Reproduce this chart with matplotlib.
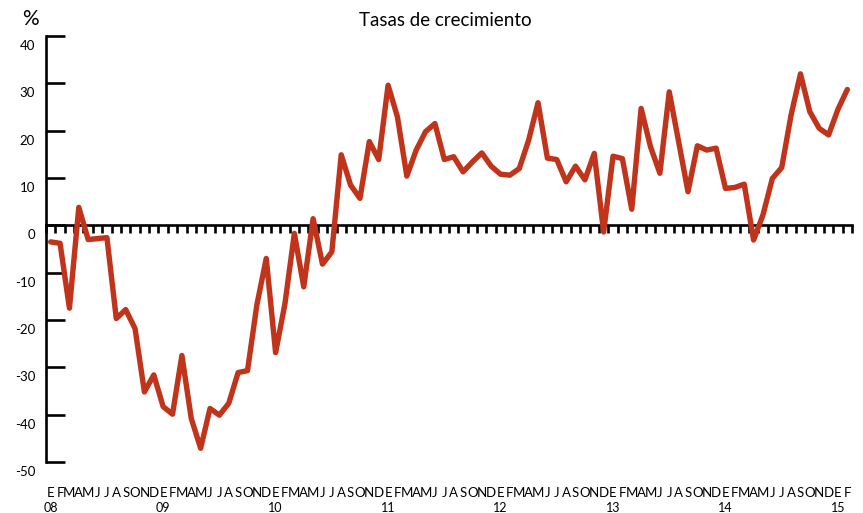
import matplotlib
matplotlib.use('Agg')
import matplotlib.pyplot as plt

plt.rcParams['font.family'] = ['Lato', 'DejaVu Sans']

# monthly growth rates, Jan 2008 - Feb 2015 (%)
values = [
    -3.5, -3.8, -17.5, 3.8, -3.0, -2.8, -2.6, -19.7, -17.8, -21.8, -35.2, -31.6,   # 2008
    -38.3, -39.9, -27.5, -40.8, -47.1, -38.7, -40.1, -37.6, -31.1, -30.7, -16.8, -7.0,  # 2009
    -26.9, -16.5, -1.7, -13.0, 1.4, -8.2, -5.6, 14.9, 8.5, 5.7, 17.7, 13.9,  # 2010
    29.6, 22.9, 10.4, 15.9, 19.8, 21.5, 13.9, 14.5, 11.3, 13.4, 15.3, 12.5,  # 2011
    10.8, 10.6, 12.0, 18.0, 25.9, 14.2, 13.9, 9.2, 12.5, 9.6, 15.2, -1.4,  # 2012
    14.6, 14.1, 3.4, 24.7, 16.6, 11.0, 28.2, 17.7, 7.1, 16.8, 15.9, 16.3,  # 2013
    7.8, 8.0, 8.7, -3.1, 2.2, 9.9, 12.2, 23.3, 32.0, 24.0, 20.5, 19.1,  # 2014
    24.5, 28.7,  # 2015
]
month_letters = ['E', 'F', 'M', 'A', 'M', 'J', 'J', 'A', 'S', 'O', 'N', 'D']
years = ['08', '09', '10', '11', '12', '13', '14', '15']
y_ticks = [-50, -40, -30, -20, -10, 0, 10, 20, 30, 40]

W, H = 863, 513
fig = plt.figure(figsize=(W / 100, H / 100), dpi=100)
ax = fig.add_axes([46 / W, 1 - 462 / H, (852 - 46) / W, (462 - 36) / H])

n = len(values)
x = list(range(n))
ax.plot(x, values, color='#c0341c', lw=3.9, solid_joinstyle='round',
        solid_capstyle='round', zorder=3)

ax.set_xlim(-0.5, n - 0.5)
ax.set_ylim(-50, 40)

for s in ['top', 'right']:
    ax.spines[s].set_visible(False)
ax.spines['left'].set_linewidth(1.9)
ax.spines['bottom'].set_position(('data', 0))
ax.spines['bottom'].set_linewidth(1.9)

# y ticks pointing into the plot, labels drawn a bit below
ax.set_yticks(y_ticks)
ax.tick_params(axis='y', direction='in', length=14, width=1.9, labelleft=False)
for v in y_ticks:
    ax.annotate(str(v), xy=(0, v), xycoords=('axes fraction', 'data'),
                xytext=(-11, -10), textcoords='offset pixels',
                ha='right', va='center', fontsize=9.5)

# small month ticks on the zero line
ax.set_xticks([i + 0.5 for i in range(-1, n)])
ax.tick_params(axis='x', direction='out', length=6, width=1.9, labelbottom=False)

for i in range(n):
    ax.annotate(month_letters[i % 12], xy=(i, 0), xycoords=('data', 'axes fraction'),
                xytext=(0, -31), textcoords='offset pixels',
                ha='center', va='center', fontsize=9.5)
for k, yr in enumerate(years):
    ax.annotate(yr, xy=(k * 12, 0), xycoords=('data', 'axes fraction'),
                xytext=(0, -46), textcoords='offset pixels',
                ha='center', va='center', fontsize=9)

fig.text(30 / W, 1 - 19 / H, '%', ha='center', va='center', fontsize=15)
fig.text(445 / W, 1 - 20 / H, 'Tasas de crecimiento', ha='center', va='center',
         fontsize=13.5)

fig.savefig('out.png', dpi=100)
